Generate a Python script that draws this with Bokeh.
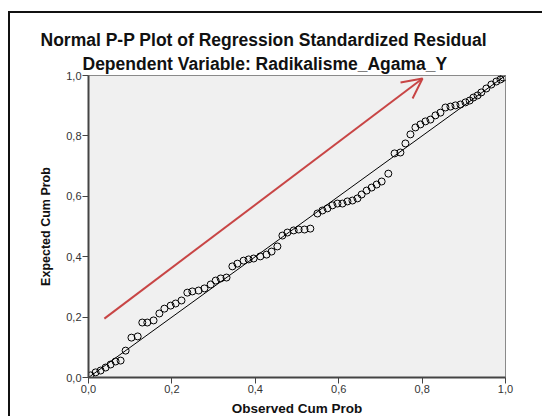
from bokeh.plotting import figure
from bokeh.models import Title, Arrow, OpenHead, FixedTicker, Range1d
from bokeh.embed import file_html
from bokeh.resources import INLINE

# Observed / expected cumulative probabilities
obs = [0.005, 0.017, 0.029, 0.041, 0.053, 0.065, 0.077, 0.089, 0.103, 0.118,
       0.129, 0.141, 0.156, 0.170, 0.182, 0.197, 0.209, 0.223, 0.237, 0.249,
       0.264, 0.278, 0.293, 0.305, 0.317, 0.331, 0.345, 0.357, 0.372, 0.384,
       0.396, 0.412, 0.427, 0.439, 0.453, 0.465, 0.477, 0.492, 0.504, 0.518,
       0.532, 0.549, 0.561, 0.573, 0.585, 0.597, 0.609, 0.621, 0.633, 0.645,
       0.655, 0.667, 0.679, 0.691, 0.703, 0.719, 0.734, 0.748, 0.760, 0.772,
       0.784, 0.796, 0.808, 0.820, 0.832, 0.844, 0.856, 0.868, 0.880, 0.892,
       0.904, 0.914, 0.923, 0.933, 0.942, 0.954, 0.966, 0.978, 0.988, 0.995]
expv = [0.007, 0.017, 0.023, 0.033, 0.043, 0.053, 0.056, 0.089, 0.132, 0.136,
        0.182, 0.182, 0.189, 0.212, 0.228, 0.238, 0.245, 0.255, 0.281, 0.285,
        0.288, 0.295, 0.308, 0.321, 0.328, 0.331, 0.368, 0.377, 0.387, 0.391,
        0.394, 0.401, 0.407, 0.417, 0.434, 0.470, 0.480, 0.487, 0.490, 0.490,
        0.493, 0.543, 0.553, 0.560, 0.570, 0.576, 0.576, 0.583, 0.586, 0.593,
        0.606, 0.619, 0.629, 0.639, 0.649, 0.675, 0.742, 0.745, 0.775, 0.805,
        0.828, 0.838, 0.848, 0.854, 0.868, 0.877, 0.894, 0.897, 0.901, 0.904,
        0.911, 0.917, 0.927, 0.934, 0.944, 0.957, 0.970, 0.980, 0.987, 0.993]

ref_x = [0.0, 1.0]
ref_y = [0.0, 1.0]
arrow_x = [0.038, 0.801]
arrow_y = [0.195, 0.990]
tick_values = [0.0, 0.2, 0.4, 0.6, 0.8, 1.0]
tick_labels = ["0,0", "0,2", "0,4", "0,6", "0,8", "1,0"]

title_1 = "Normal P-P Plot of Regression Standardized Residual"
title_2 = "Dependent Variable: Radikalisme_Agama_Y"
x_label = "Observed Cum Prob"
y_label = "Expected Cum Prob"

RED = "#c84545"
FONT = "Liberation Sans"
W, H = 534, 405

p = figure(width=W, height=H, output_backend="svg", toolbar_location=None,
           x_range=Range1d(0, 1), y_range=Range1d(0, 1),
           min_border_left=78, min_border_right=39, min_border_top=62,
           min_border_bottom=41,
           background_fill_color="#f0f0f0", border_fill_color="white")
p.styles = {"border-left": "2px solid #111", "border-top": "2px solid #111",
            "margin-left": "8px", "margin-top": "11px"}
p.grid.visible = False
p.outline_line_color = "#8a8a8a"
p.outline_line_width = 1

for ax in (p.xaxis[0], p.yaxis[0]):
    ax.ticker = FixedTicker(ticks=tick_values)
    ax.major_label_overrides = dict(zip(tick_values, tick_labels))
    ax.minor_tick_line_color = None
    ax.major_tick_in = 0
    ax.major_tick_out = 6
    ax.axis_line_color = "#444444"
    ax.axis_line_width = 2
    ax.major_tick_line_color = "#444444"
    ax.major_tick_line_width = 1
    ax.major_label_text_font = FONT
    ax.major_label_text_font_size = "11px"
    ax.major_label_text_color = "#333333"
    ax.major_label_standoff = 1
    ax.axis_label_text_font = FONT
    ax.axis_label_text_font_style = "bold"
    ax.axis_label_text_color = "#111111"

p.xaxis.axis_label = x_label
p.yaxis.axis_label = y_label
p.xaxis.axis_label_text_font_size = "13.5px"
p.yaxis.axis_label_text_font_size = "12.5px"
p.xaxis.axis_label_standoff = 5
p.yaxis.axis_label_standoff = 10

p.line(ref_x, ref_y, line_color="black", line_width=1)
p.scatter(obs, expv, marker="circle", size=7, fill_color=None,
          line_color="black", line_width=1)

p.add_layout(Arrow(end=OpenHead(size=20, line_color=RED, line_width=2),
                   x_start=arrow_x[0], y_start=arrow_y[0],
                   x_end=arrow_x[1], y_end=arrow_y[1],
                   line_color=RED, line_width=2))

# two-line heading: p.title is the outer (upper) line
p.title.text = title_1
p.title.align = "left"
p.title.offset = -48
p.title.standoff = 0
p.title.text_font = FONT
p.title.text_font_style = "bold"
p.title.text_font_size = "17.5px"
p.title.text_color = "#111111"

p.add_layout(Title(text=title_2, align="left", offset=-6, standoff=4,
                   text_font=FONT, text_font_style="bold",
                   text_font_size="17.5px", text_color="#111111"), "above")

open("out.html", "w").write(file_html(p, INLINE))
